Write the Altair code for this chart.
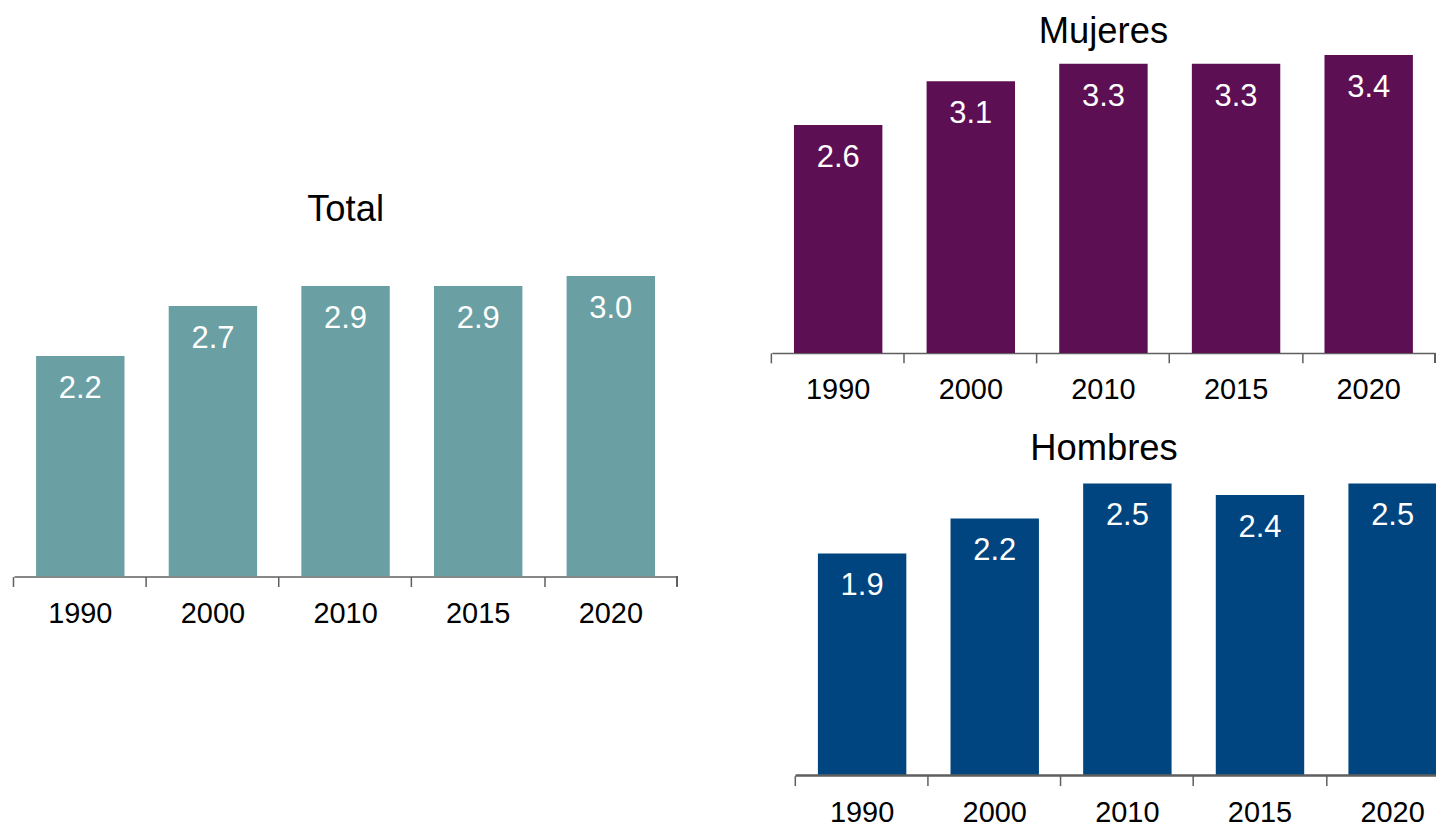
import altair as alt
import pandas as pd

years = ["1990", "2000", "2010", "2015", "2020"]
total_vals = [2.2, 2.7, 2.9, 2.9, 3.0]
mujeres_vals = [2.6, 3.1, 3.3, 3.3, 3.4]
hombres_vals = [1.9, 2.2, 2.5, 2.4, 2.5]

FONT = "Liberation Sans"
AXIS_COLOR = "#5f5f5f"
TITLE_SIZE = 36.5


def panel(vals, color, title, width, height, ppu, title_offset,
          x_range=None, end_tick=True, own_baseline=None):
    df = pd.DataFrame({"year": years, "value": vals})
    xscale = dict(paddingInner=1 / 3, paddingOuter=1 / 6)
    if x_range is not None:
        xscale["range"] = x_range
    axis_kw = dict(
        labelAngle=0, labelFont=FONT, labelFontSize=29, labelColor="black",
        labelPadding=13, tickSize=10, tickColor=AXIS_COLOR, tickWidth=1.5,
        domainColor=AXIS_COLOR, domainWidth=1.5, grid=False, bandPosition=-0.25,
    )
    if own_baseline is not None:
        axis_kw["domain"] = False
    x = alt.X("year:N", title=None, scale=alt.Scale(**xscale), axis=alt.Axis(**axis_kw))
    y = alt.Y("value:Q", axis=None, scale=alt.Scale(domain=[0, height / ppu], nice=False))
    base = alt.Chart(df)
    bars = base.mark_bar(color=color, clip=True).encode(x=x, y=y)
    text = base.mark_text(color="white", font=FONT, fontSize=31, baseline="alphabetic",
                          dy=42, clip=True).encode(
        x=x, y=y, text=alt.Text("value:Q", format=".1f"))
    layers = [bars, text]
    if end_tick:
        layers.append(alt.Chart(df).mark_rule(color=AXIS_COLOR, strokeWidth=1.5).encode(
            x=alt.value(width), y=alt.value(height), y2=alt.value(height + 10)))
    if own_baseline is not None:
        layers.append(alt.Chart(df).mark_rule(color=AXIS_COLOR, strokeWidth=1.5).encode(
            x=alt.value(own_baseline[0]), x2=alt.value(own_baseline[1]),
            y=alt.value(height)))
    return alt.layer(*layers).properties(
        width=width, height=height,
        title=alt.TitleParams(title, font=FONT, fontSize=TITLE_SIZE, fontWeight="normal",
                              color="black", baseline="alphabetic", anchor="middle",
                              offset=title_offset),
    )


total = panel(total_vals, "#6a9fa3", "Total", 665, 524.7, 100.5, -204.2)
mujeres = panel(mujeres_vals, "#5c1053", "Mujeres", 665, 300.4, 87.85, -26.5)
hombres = panel(hombres_vals, "#00457f", "Hombres", 666, 306, 117.2, -26.5,
                x_range=[24, 689], end_tick=False, own_baseline=[24, 666])

right = alt.vconcat(mujeres, hombres, spacing=26.3)
chart = alt.hconcat(total, right, spacing=92).properties(
    padding={"left": 4, "top": 5.3, "right": 0, "bottom": 0}
).configure_view(strokeWidth=0)

chart.save("out.html", embed_options={"renderer": "svg", "actions": False})
